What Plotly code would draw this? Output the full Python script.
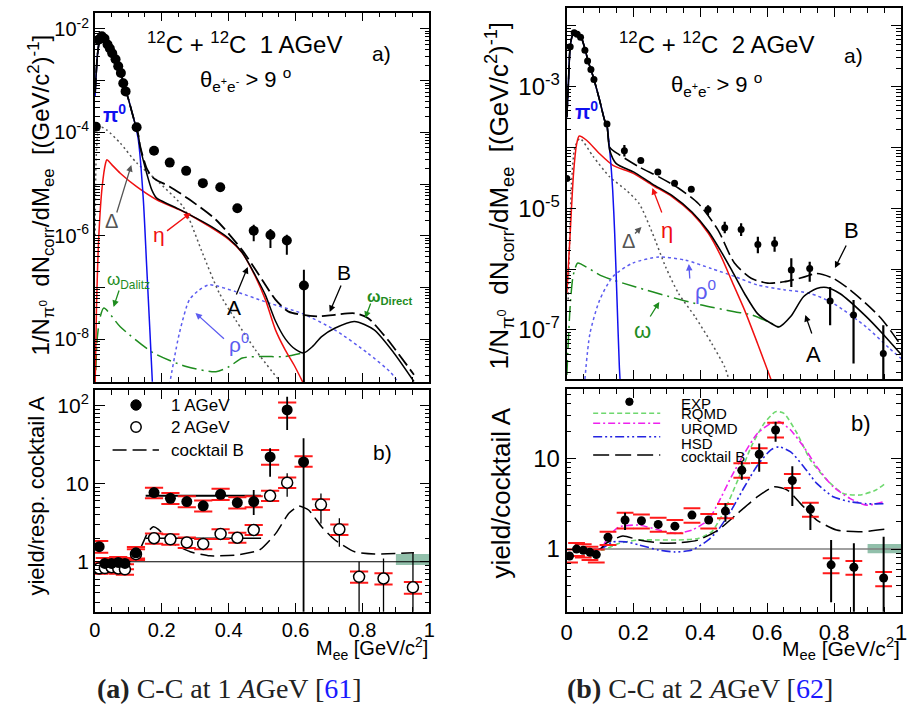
import plotly.graph_objects as go

# ===================== DATA =====================
# --- panel (a) top: C+C 1 AGeV, dN/dMee ---
m_1gev = [0.003, 0.011, 0.021, 0.029, 0.038, 0.045, 0.052, 0.062, 0.070, 0.078, 0.085, 0.092,
          0.125, 0.177, 0.224, 0.273, 0.323, 0.375, 0.426, 0.475, 0.525, 0.574, 0.625]
y_1gev = [1.29e-4, 6.2e-3, 7.2e-3, 6.5e-3, 5.0e-3, 4.2e-3, 3.4e-3, 2.6e-3, 1.9e-3, 1.41e-3, 8.9e-4, 6.2e-4,
          1.26e-4, 4.4e-5, 2.6e-5, 1.8e-5, 1.04e-5, 8.7e-6, 3.4e-6, 1.25e-6, 1.03e-6, 8.1e-7, 1.09e-7]
y_1gev_hi = [None] * 18 + [4.0e-6, 1.63e-6, 1.35e-6, 1.04e-6, 2.2e-7]
y_1gev_lo = [None] * 18 + [2.9e-6, 7.8e-7, 5.8e-7, 4.3e-7, 1e-12]

a1_pi0_m = [0.001, 0.008, 0.015, 0.021, 0.03, 0.04, 0.05, 0.06, 0.07, 0.08, 0.09, 0.1, 0.11, 0.12, 0.13,
            0.145, 0.155, 0.165, 0.172]
a1_pi0_y = [5.0e-4, 3.2e-3, 6.3e-3, 7.4e-3, 6.6e-3, 5.0e-3, 3.6e-3, 2.6e-3, 1.9e-3, 1.26e-3, 7.1e-4, 4.5e-4,
            2.6e-4, 1.5e-4, 7.2e-5, 5.0e-6, 2.6e-7, 1.3e-8, 1.5e-9]
a1_A_m = [0.001, 0.008, 0.015, 0.021, 0.03, 0.04, 0.05, 0.06, 0.07, 0.08, 0.09, 0.1, 0.11, 0.12, 0.13,
          0.135, 0.155, 0.17, 0.184, 0.2, 0.25, 0.3, 0.35, 0.4, 0.44, 0.48, 0.51, 0.54, 0.57, 0.6, 0.625,
          0.65, 0.678, 0.717, 0.776, 0.835, 0.894, 0.954]
a1_A_y = [6.0e-4, 3.2e-3, 6.3e-3, 7.4e-3, 6.6e-3, 5.0e-3, 3.6e-3, 2.6e-3, 1.9e-3, 1.26e-3, 7.1e-4, 4.5e-4,
          2.6e-4, 1.5e-4, 8.9e-5, 5.4e-5, 1.62e-5, 7.8e-6, 5.4e-6, 4.7e-6, 3.3e-6, 2.24e-6, 1.48e-6, 8.9e-7,
          4.8e-7, 1.7e-7, 7.1e-8, 2.24e-8, 1.0e-8, 6.3e-9, 5.4e-9, 7.1e-9, 1.12e-8, 1.62e-8, 2.2e-8, 1.51e-8,
          5.4e-9, 1.51e-9]
a1_B_m = [0.001, 0.008, 0.015, 0.021, 0.03, 0.04, 0.05, 0.06, 0.07, 0.08, 0.09, 0.1, 0.11, 0.12, 0.13,
          0.135, 0.155, 0.17, 0.184, 0.224, 0.283, 0.362, 0.441, 0.5, 0.54, 0.579, 0.621, 0.668, 0.717, 0.776,
          0.816, 0.875, 0.954]
a1_B_y = [6.0e-4, 3.2e-3, 6.3e-3, 7.4e-3, 6.6e-3, 5.0e-3, 3.6e-3, 2.6e-3, 1.9e-3, 1.26e-3, 7.1e-4, 4.5e-4,
          2.6e-4, 1.5e-4, 8.9e-5, 5.6e-5, 2.0e-5, 1.41e-5, 1.2e-5, 8.9e-6, 5.0e-6, 2.04e-6, 5.2e-7, 1.41e-7,
          5.8e-8, 3.4e-8, 2.95e-8, 2.75e-8, 2.95e-8, 3.16e-8, 2.57e-8, 9.8e-9, 2.04e-9]
a1_eta_m = [0.001, 0.005, 0.012, 0.022, 0.032, 0.036, 0.05, 0.076, 0.125, 0.184, 0.273, 0.342, 0.402, 0.441,
            0.48, 0.51, 0.54, 0.569, 0.598, 0.623]
a1_eta_y = [1.26e-9, 4.0e-8, 1.0e-6, 8.9e-6, 2.5e-5, 2.95e-5, 2.4e-5, 1.62e-5, 8.9e-6, 5.0e-6, 2.75e-6,
            1.51e-6, 8.3e-7, 4.6e-7, 1.62e-7, 5.8e-8, 1.51e-8, 6.2e-9, 2.95e-9, 1.41e-9]
a1_delta_m = [0.001, 0.004, 0.01, 0.02, 0.035, 0.076, 0.125, 0.184, 0.263, 0.283, 0.322, 0.372, 0.421, 0.48, 0.55]
a1_delta_y = [1.0e-6, 3.16e-5, 1.0e-4, 1.26e-4, 1.12e-4, 6.2e-5, 2.57e-5, 1.2e-5, 3.7e-6, 2.04e-6, 4.6e-7,
              7.8e-8, 2.34e-8, 6.2e-9, 1.62e-9]
a1_omega_m = [0.003, 0.007, 0.015, 0.027, 0.076, 0.175, 0.273, 0.362, 0.402, 0.441, 0.5, 0.569, 0.623]
a1_omega_y = [2.5e-9, 9.8e-9, 2.5e-8, 4.0e-8, 1.74e-8, 5.4e-9, 2.95e-9, 2.34e-9, 2.95e-9, 4.3e-9, 4.6e-9,
              4.6e-9, 5.4e-9]
a1_rho_m = [0.22, 0.253, 0.283, 0.312, 0.342, 0.421, 0.52, 0.618, 0.717, 0.815, 0.885, 0.905]
a1_rho_y = [1.0e-9, 1.32e-8, 5.8e-8, 8.9e-8, 1.12e-7, 8.3e-8, 5.0e-8, 3.16e-8, 1.51e-8, 5.4e-9, 2.24e-9, 1.51e-9]

# --- panel (b) top: C+C 2 AGeV, dN/dMee ---
m_2gev = [0.001, 0.011, 0.023, 0.032, 0.042, 0.055, 0.063, 0.073, 0.082, 0.121, 0.173, 0.222, 0.273, 0.323,
          0.373, 0.423, 0.473, 0.522, 0.572, 0.622, 0.672, 0.727, 0.788, 0.858, 0.947]
y_2gev = [3.1e-5, 4.55e-3, 7.7e-3, 7.3e-3, 6.5e-3, 4.0e-3, 2.65e-3, 1.93e-3, 1.32e-3, 2.44e-4, 8.9e-5, 6.1e-5,
          3.95e-5, 2.58e-5, 2.07e-5, 9.6e-6, 4.8e-6, 4.5e-6, 2.55e-6, 2.65e-6, 9.7e-7, 1.03e-6, 2.99e-7,
          1.76e-7, 4.1e-8]
y_2gev_hi = [None] * 10 + [1.1e-4, None, None, None, None, 1.13e-5, 6.0e-6, 5.7e-6, 3.4e-6, 3.4e-6, 1.51e-6,
                           1.32e-6, 5.1e-7, 3.1e-7, 1.2e-7]
y_2gev_lo = [None] * 10 + [7.1e-5, None, None, None, None, 7.8e-6, 3.9e-6, 3.5e-6, 1.82e-6, 1.94e-6, 5.1e-7,
                           6.2e-7, 1.2e-7, 2.8e-8, 1e-12]

b1_pi0_m = [0.001, 0.006, 0.011, 0.018, 0.026, 0.035, 0.045, 0.055, 0.065, 0.08, 0.099, 0.114, 0.121, 0.13,
            0.138, 0.144, 0.151, 0.158, 0.162]
b1_pi0_y = [3.16e-4, 1.26e-3, 4.6e-3, 7.1e-3, 8.1e-3, 7.4e-3, 6.3e-3, 4.2e-3, 2.6e-3, 1.45e-3, 6.0e-4, 2.8e-4,
            2.24e-4, 7.9e-5, 2.0e-5, 3.9e-6, 3.1e-7, 2.45e-8, 1.0e-8]
b1_A_m = [0.001, 0.006, 0.011, 0.018, 0.026, 0.035, 0.045, 0.055, 0.065, 0.08, 0.099, 0.114, 0.121, 0.129,
          0.148, 0.2, 0.257, 0.316, 0.375, 0.424, 0.463, 0.493, 0.532, 0.571, 0.611, 0.635, 0.67, 0.709, 0.748,
          0.778, 0.817, 0.896, 0.945, 1.0]
b1_A_y = [3.16e-4, 1.26e-3, 4.6e-3, 7.1e-3, 8.1e-3, 7.4e-3, 6.3e-3, 4.2e-3, 2.6e-3, 1.45e-3, 6.0e-4, 2.8e-4,
          2.3e-4, 9.1e-5, 5.5e-5, 3.98e-5, 2.51e-5, 1.62e-5, 8.7e-6, 4.2e-6, 1.91e-6, 9.8e-7, 3.98e-7, 1.86e-7,
          1.29e-7, 1.12e-7, 1.66e-7, 3.55e-7, 4.8e-7, 5.0e-7, 3.98e-7, 1.66e-7, 8.7e-8, 3.98e-8]
b1_B_m = [0.001, 0.006, 0.011, 0.018, 0.026, 0.035, 0.045, 0.055, 0.065, 0.08, 0.099, 0.114, 0.121, 0.13,
          0.158, 0.217, 0.276, 0.335, 0.394, 0.453, 0.502, 0.552, 0.601, 0.65, 0.709, 0.748, 0.797, 0.847,
          0.906, 0.945, 1.0]
b1_B_y = [3.16e-4, 1.26e-3, 4.6e-3, 7.1e-3, 8.1e-3, 7.4e-3, 6.3e-3, 4.2e-3, 2.6e-3, 1.45e-3, 6.0e-4, 2.8e-4,
          2.3e-4, 1.0e-4, 7.6e-5, 4.8e-5, 3.3e-5, 2.14e-5, 1.2e-5, 4.4e-6, 1.26e-6, 7.1e-7, 5.9e-7, 6.2e-7,
          7.4e-7, 8.5e-7, 7.1e-7, 4.6e-7, 2.4e-7, 1.45e-7, 5.6e-8]
b1_eta_m = [0.001, 0.011, 0.021, 0.03, 0.038, 0.06, 0.099, 0.139, 0.198, 0.257, 0.316, 0.375, 0.424, 0.463,
            0.493, 0.532, 0.571, 0.611]
b1_eta_y = [3.98e-7, 3.9e-6, 3.8e-5, 1.12e-4, 1.55e-4, 1.32e-4, 7.9e-5, 5.1e-5, 3.8e-5, 2.4e-5, 1.55e-5,
            8.3e-6, 3.9e-6, 1.58e-6, 6.6e-7, 2.14e-7, 6.0e-8, 1.55e-8]
b1_delta_m = [0.005, 0.015, 0.025, 0.04, 0.08, 0.129, 0.178, 0.217, 0.257, 0.296, 0.335, 0.384, 0.434, 0.473, 0.49]
b1_delta_y = [3.16e-7, 2.5e-5, 1.0e-4, 1.41e-4, 7.1e-5, 3.3e-5, 2.0e-5, 1.2e-5, 3.9e-6, 1.1e-6, 3.98e-7,
              1.66e-7, 6.0e-8, 2.45e-8, 1.26e-8]
b1_omega_m = [0.001, 0.011, 0.02, 0.033, 0.045, 0.109, 0.207, 0.306, 0.404, 0.502, 0.552, 0.601, 0.635]
b1_omega_y = [1.82e-8, 2.5e-7, 7.9e-7, 1.26e-6, 1.2e-6, 7.6e-7, 5.1e-7, 3.55e-7, 2.57e-7, 2.0e-7, 1.78e-7,
              1.38e-7, 1.12e-7]
b1_rho_m = [0.055, 0.07, 0.099, 0.139, 0.198, 0.276, 0.355, 0.434, 0.502, 0.571, 0.65, 0.729, 0.797, 0.896,
            0.965, 1.0]
b1_rho_y = [1.55e-8, 8.7e-8, 3.1e-7, 7.6e-7, 1.26e-6, 1.58e-6, 1.41e-6, 1.02e-6, 7.6e-7, 5.5e-7, 4.6e-7,
            3.98e-7, 2.75e-7, 1.12e-7, 5.0e-8, 3.4e-8]

# --- panel (a) bottom: yield / cocktail A ---
r1_m = [0.013, 0.03, 0.05, 0.07, 0.09, 0.123, 0.177, 0.226, 0.275, 0.324, 0.376, 0.426, 0.475, 0.524, 0.575, 0.624]
r1_y = [1.56, 0.95, 0.95, 0.98, 0.95, 1.30, 7.7, 6.5, 5.9, 5.2, 7.3, 5.7, 5.9, 22.0, 88.0, 19.0]
r1_stat_hi = [1.7, 1.0, 1.0, 1.03, 1.0, 1.45, 8.5, 7.0, 6.3, 5.7, 8.0, 6.2, 8.3, 28.4, 130.0, 38.2]
r1_stat_lo = [1.42, 0.9, 0.9, 0.93, 0.9, 1.17, 6.9, 6.0, 5.5, 4.7, 6.6, 5.2, 3.96, 12.3, 48.8, 0.001]
r1_sys_hi = [1.85, 1.12, 1.12, 1.15, 1.12, 1.55, 8.9, 7.6, 6.9, 6.1, 8.6, 6.7, 6.9, 27.0, 110.0, 22.5]
r1_sys_lo = [1.3, 0.8, 0.8, 0.83, 0.8, 1.1, 6.5, 5.5, 5.0, 4.4, 6.2, 4.8, 5.0, 17.5, 70.0, 16.5]

r2_m = [0.013, 0.03, 0.05, 0.07, 0.09, 0.123, 0.177, 0.226, 0.275, 0.324, 0.376, 0.426, 0.475, 0.524, 0.575,
        0.676, 0.731, 0.790, 0.863, 0.951]
r2_y = [0.82, 0.83, 0.85, 0.82, 0.80, 1.25, 2.0, 1.94, 1.77, 1.69, 2.27, 2.03, 2.55, 7.0, 10.3, 5.4, 2.6,
        0.64, 0.61, 0.47]
r2_stat_hi = [0.86, 0.87, 0.89, 0.86, 0.84, 1.35, 2.3, 2.1, 1.9, 1.8, 2.45, 2.2, 2.75, 7.6, 13.6, 7.5, 3.6,
              1.0, 1.1, 1.3]
r2_stat_lo = [0.78, 0.79, 0.81, 0.78, 0.76, 1.16, 1.75, 1.8, 1.65, 1.58, 2.1, 1.88, 2.35, 6.4, 6.8, 3.1, 1.56,
              0.001, 0.001, 0.001]
r2_sys_hi = [0.95, 0.96, 0.98, 0.95, 0.93, 1.45, 2.3, 2.25, 2.05, 1.95, 2.6, 2.35, 2.95, 8.1, 12.0, 6.3, 3.0,
             0.75, 0.71, 0.55]
r2_sys_lo = [0.7, 0.71, 0.73, 0.7, 0.68, 1.05, 1.7, 1.65, 1.5, 1.45, 1.95, 1.75, 2.2, 6.0, 8.8, 4.6, 2.2,
             0.54, 0.51, 0.39]

fit_m = [0.152, 0.497]
fit_1gev = 7.0
fit_2gev = 2.0

ra_cockB_m = [0.1, 0.12, 0.14, 0.16, 0.175, 0.19, 0.226, 0.285, 0.344, 0.423, 0.492, 0.541, 0.58, 0.61, 0.639,
              0.678, 0.718, 0.777, 0.836, 0.914, 0.954]
ra_cockB_y = [1.0, 1.12, 1.6, 2.45, 2.8, 2.6, 1.8, 1.34, 1.19, 1.22, 1.41, 2.31, 4.18, 5.18, 4.6, 2.81, 1.9,
              1.34, 1.26, 1.28, 1.3]
band_m = [0.9, 1.0]
ra_band = [0.91, 1.26]

# --- panel (b) bottom: yield / cocktail A, models ---
rb_m = [0.009, 0.030, 0.050, 0.070, 0.089, 0.124, 0.175, 0.224, 0.274, 0.324, 0.375, 0.425, 0.475, 0.524,
        0.576, 0.625, 0.675, 0.729, 0.791, 0.859, 0.948]
rb_y = [0.84, 1.0, 0.97, 0.92, 0.87, 1.35, 2.09, 2.05, 1.87, 1.79, 2.37, 2.09, 2.62, 7.4, 11.1, 20.5, 5.7,
        2.74, 0.67, 0.63, 0.48]
rb_stat_hi = [0.86, 1.03, 1.0, 0.95, 0.9, 1.45, 2.51, 2.15, 1.97, 1.88, 2.5, 2.2, 3.19, 9.2, 14.6, 25.3, 8.2,
              3.19, 1.26, 1.16, 1.37]
rb_stat_lo = [0.82, 0.97, 0.94, 0.89, 0.84, 1.25, 1.62, 1.95, 1.77, 1.7, 2.24, 1.98, 2.0, 5.8, 7.1, 15.2, 2.98,
              1.62, 0.26, 0.1, 0.1]
rb_sys_hi = [0.99, 1.17, 1.13, 1.06, 0.99, 1.55, 2.51, 2.41, 2.21, 2.09, 2.81, 2.43, 3.13, 8.8, 12.9, 24.7,
             6.7, 3.24, 0.79, 0.74, 0.56]
rb_sys_lo = [0.71, 0.84, 0.81, 0.76, 0.71, 1.11, 1.69, 1.69, 1.55, 1.49, 1.95, 1.69, 2.18, 6.1, 8.9, 17.0,
             4.7, 2.27, 0.54, 0.52, 0.39]

rqmd_m = [0.03, 0.109, 0.158, 0.217, 0.276, 0.335, 0.394, 0.434, 0.473, 0.512, 0.552, 0.591, 0.625, 0.65,
          0.689, 0.729, 0.778, 0.827, 0.876, 0.925, 0.95]
rqmd_y = [1.0, 0.98, 1.16, 1.26, 1.26, 1.26, 1.31, 1.55, 2.69, 5.75, 13.4, 24.3, 32.7, 31.3, 18.9, 9.6, 5.8,
          4.1, 3.94, 4.47, 5.2]
urqmd_m = [0.03, 0.1, 0.129, 0.158, 0.217, 0.276, 0.325, 0.375, 0.424, 0.453, 0.493, 0.532, 0.571, 0.611,
           0.635, 0.67, 0.709, 0.748, 0.797, 0.847, 0.896, 0.95]
urqmd_y = [1.0, 1.0, 1.43, 1.76, 1.84, 1.62, 1.49, 1.62, 2.09, 3.19, 6.3, 11.4, 18.9, 24.3, 25.4, 20.5, 13.4,
           8.1, 4.86, 3.62, 3.05, 3.33]
hsd_m = [0.03, 0.1, 0.139, 0.178, 0.217, 0.276, 0.325, 0.375, 0.424, 0.453, 0.493, 0.532, 0.571, 0.611, 0.635,
         0.67, 0.709, 0.748, 0.797, 0.847, 0.896, 0.95]
hsd_y = [1.0, 1.0, 1.2, 1.2, 1.11, 0.975, 0.93, 0.975, 1.26, 1.62, 2.69, 4.86, 8.4, 12.4, 13.4, 11.8, 8.1,
         5.3, 3.78, 3.33, 3.16, 3.16]
rb_cockB_m = [0.03, 0.1, 0.119, 0.168, 0.217, 0.276, 0.335, 0.394, 0.453, 0.512, 0.571, 0.62, 0.66, 0.699,
              0.748, 0.807, 0.876, 0.95]
rb_cockB_y = [1.0, 1.0, 1.16, 1.39, 1.26, 1.17, 1.17, 1.26, 1.62, 2.48, 3.78, 4.86, 4.47, 3.19, 2.09, 1.62,
              1.55, 1.65]
rb_band = [0.897, 1.135]

# tick labels
x_tick_vals = [0, 0.2, 0.4, 0.6, 0.8, 1]
x_tick_text = ["0", "0.2", "0.4", "0.6", "0.8", "1"]

# ===================== FIGURE =====================
W, H = 910, 705
FONT = "Liberation Sans, Arial, Helvetica, sans-serif"
SERIF = "Liberation Serif, Times New Roman, serif"

C_PI0 = "#1010f0"
C_ETA = "#f01010"
C_DEL = "#555555"
C_OME = "#1e8c1e"
C_RHO = "#5c5cf0"


def px(x):
    return x / W


def py(y):
    return 1 - y / H


fig = go.Figure()


def curve(x, y, xa, ya, color, dash="solid", width=1.5, smooth=0.7):
    fig.add_trace(go.Scatter(
        x=x, y=y, xaxis=xa, yaxis=ya, mode="lines",
        line=dict(color=color, dash=dash, width=width, shape="spline", smoothing=smooth),
        showlegend=False, hoverinfo="skip"))


def errs(y, hi, lo):
    plus = [(h - v) if h is not None else 0 for h, v in zip(hi, y)]
    minus = [(v - l) if l is not None else 0 for l, v in zip(lo, y)]
    return plus, minus


def points(x, y, hi, lo, xa, ya, size, open_=False, ew=1.5):
    plus, minus = errs(y, hi, lo)
    fig.add_trace(go.Scatter(
        x=x, y=y, xaxis=xa, yaxis=ya, mode="markers",
        marker=dict(size=size, color="white" if open_ else "black", symbol="circle",
                    line=dict(color="black", width=1.5 if open_ else 0)),
        error_y=dict(type="data", symmetric=False, array=plus, arrayminus=minus,
                     color="black", thickness=ew, width=0),
        showlegend=False, hoverinfo="skip"))


def caps(x, hi, lo, xa, ya, size):
    fig.add_trace(go.Scatter(
        x=list(x) + list(x), y=list(hi) + list(lo), xaxis=xa, yaxis=ya, mode="markers",
        marker=dict(symbol="line-ew", size=size, line=dict(color="#ff1a1a", width=2)),
        showlegend=False, hoverinfo="skip"))


def hline(xa, ya, level, color, width):
    fig.add_trace(go.Scatter(x=[0, 1], y=[level, level], xaxis=xa, yaxis=ya, mode="lines",
                             line=dict(color=color, width=width), showlegend=False, hoverinfo="skip"))


def band(xa, ya, lims):
    fig.add_trace(go.Scatter(
        x=[band_m[0], band_m[1], band_m[1], band_m[0], band_m[0]],
        y=[lims[0], lims[0], lims[1], lims[1], lims[0]], xaxis=xa, yaxis=ya,
        mode="lines", fill="toself", fillcolor="#92c0ab", line=dict(width=0),
        showlegend=False, hoverinfo="skip"))


# ---- top-left ----
curve(a1_omega_m, a1_omega_y, "x", "y", C_OME, "15px,5px,2px,5px")
curve(a1_rho_m, a1_rho_y, "x", "y", C_RHO, "3px,3px")
curve(a1_delta_m, a1_delta_y, "x", "y", C_DEL, "2px,3px")
curve(a1_eta_m, a1_eta_y, "x", "y", C_ETA)
curve(a1_pi0_m, a1_pi0_y, "x", "y", C_PI0)
curve(a1_B_m, a1_B_y, "x", "y", "black", "14px,5px", 1.8)
curve(a1_A_m, a1_A_y, "x", "y", "black", "solid", 1.5)
points(m_1gev, y_1gev, y_1gev_hi, y_1gev_lo, "x", "y", 10, ew=2)

# ---- top-right ----
curve(b1_omega_m, b1_omega_y, "x3", "y3", C_OME, "15px,5px,2px,5px")
curve(b1_rho_m, b1_rho_y, "x3", "y3", C_RHO, "3px,3px")
curve(b1_delta_m, b1_delta_y, "x3", "y3", C_DEL, "2px,3px")
curve(b1_eta_m, b1_eta_y, "x3", "y3", C_ETA)
curve(b1_pi0_m, b1_pi0_y, "x3", "y3", C_PI0)
curve(b1_B_m, b1_B_y, "x3", "y3", "black", "14px,5px", 1.6)
curve(b1_A_m, b1_A_y, "x3", "y3", "black", "solid", 1.6)
points(m_2gev, y_2gev, y_2gev_hi, y_2gev_lo, "x3", "y3", 7, ew=2.2)

# ---- bottom-left ----
band("x2", "y2", ra_band)
hline("x2", "y2", 1, "black", 1.2)
curve(ra_cockB_m, ra_cockB_y, "x2", "y2", "black", "14px,6px", 1.5, smooth=0.5)
fig.add_trace(go.Scatter(x=fit_m, y=[fit_1gev, fit_1gev], xaxis="x2", yaxis="y2", mode="lines",
                         line=dict(color="black", width=2), showlegend=False, hoverinfo="skip"))
fig.add_trace(go.Scatter(x=fit_m, y=[fit_2gev, fit_2gev], xaxis="x2", yaxis="y2", mode="lines",
                         line=dict(color="black", width=1.5), showlegend=False, hoverinfo="skip"))
caps(r2_m, r2_sys_hi, r2_sys_lo, "x2", "y2", 13)
caps(r1_m, r1_sys_hi, r1_sys_lo, "x2", "y2", 13)
points(r2_m, r2_y, r2_stat_hi, r2_stat_lo, "x2", "y2", 11, open_=True, ew=1.3)
points(r1_m, r1_y, r1_stat_hi, r1_stat_lo, "x2", "y2", 11, ew=1.8)

# ---- bottom-right ----
band("x4", "y4", rb_band)
hline("x4", "y4", 1, "#808080", 1.5)
curve(rqmd_m, rqmd_y, "x4", "y4", "#6fd86f", "5px,3px", 1.6, smooth=0.6)
curve(urqmd_m, urqmd_y, "x4", "y4", "#ee22ee", "7px,3px,2px,3px", 1.6, smooth=0.6)
curve(hsd_m, hsd_y, "x4", "y4", "#2424e0", "9px,3px,2px,3px,2px,3px", 1.6, smooth=0.6)
curve(rb_cockB_m, rb_cockB_y, "x4", "y4", "black", "16px,6px", 1.5, smooth=0.6)
caps(rb_m, rb_sys_hi, rb_sys_lo, "x4", "y4", 12)
points(rb_m, rb_y, rb_stat_hi, rb_stat_lo, "x4", "y4", 9, ew=2)

# ===================== AXES =====================
def minor_log(lo_exp, hi_exp):
    return [k * 10.0 ** e for e in range(lo_exp, hi_exp + 1) for k in range(2, 10)]


def xaxis(dom, anchor, labels, fsize):
    return dict(domain=dom, anchor=anchor, range=[0, 1], showline=True, linecolor="black", linewidth=1.5,
                mirror="ticks", ticks="inside", ticklen=9, tickwidth=1.2, tickcolor="black",
                tickvals=x_tick_vals, ticktext=x_tick_text, showticklabels=labels,
                tickfont=dict(family=FONT, size=fsize, color="black"),
                minor=dict(tickvals=[i * 0.05 for i in range(21)], ticks="inside", ticklen=5,
                           tickcolor="black", tickwidth=1),
                showgrid=False, zeroline=False)


def yaxis(dom, anchor, rng, tv, tt, minors, fsize):
    return dict(domain=dom, anchor=anchor, type="log", range=rng, showline=True, linecolor="black",
                linewidth=1.5, mirror="ticks", ticks="inside", ticklen=10, tickwidth=1.2, tickcolor="black",
                tickvals=tv, ticktext=tt, tickfont=dict(family=FONT, size=fsize, color="black"),
                minor=dict(tickvals=minors, ticks="inside", ticklen=5, tickcolor="black", tickwidth=1),
                showgrid=False, zeroline=False)


XL = [px(90), px(429)]
XR = [px(568), px(907)]

fig.update_layout(
    width=W, height=H, margin=dict(l=0, r=0, t=0, b=0),
    paper_bgcolor="white", plot_bgcolor="white", showlegend=False,
    xaxis=xaxis(XL, "y", False, 19),
    yaxis=yaxis([py(382), py(12.7)], "x", [-8.83, -1.685],
                [1e-8, 1e-7, 1e-6, 1e-5, 1e-4, 1e-3, 1e-2],
                ["10<sup>-8</sup>", "", "10<sup>-6</sup>", "", "10<sup>-4</sup>", "", "10<sup>-2</sup>"],
                minor_log(-9, -2), 20),
    xaxis2=xaxis(XL, "y2", True, 20),
    yaxis2=yaxis([py(611.7), py(390)], "x2", [-0.64, 2.20], [1, 10, 100], ["1", "10", "10<sup>2</sup>"],
                 minor_log(-1, 2), 21),
    xaxis3=xaxis(XR, "y3", False, 22),
    yaxis3=yaxis([py(379), py(8)], "x3", [-7.806, -1.705],
                 [1e-7, 1e-6, 1e-5, 1e-4, 1e-3, 1e-2],
                 ["10<sup>-7</sup>", "", "10<sup>-5</sup>", "", "10<sup>-3</sup>", ""],
                 minor_log(-8, -2), 24),
    xaxis4=xaxis(XR, "y4", True, 22),
    yaxis4=yaxis([py(611.7), py(389)], "x4", [-0.69, 1.764], [1, 10], ["1", "10"], minor_log(-1, 1), 24),
)

# ===================== TEXT =====================
ann = []


def text(x, y, t, size=20, color="black", xanchor="center", angle=0, family=FONT):
    ann.append(dict(x=px(x), y=py(y), xref="paper", yref="paper", text=t, showarrow=False,
                    xanchor=xanchor, yanchor="middle", textangle=angle,
                    font=dict(family=family, size=size, color=color)))


def arrow(tail, head, color, width=1.3):
    ann.append(dict(x=px(head[0]), y=py(head[1]), xref="paper", yref="paper", text="",
                    showarrow=True, ax=tail[0] - head[0], ay=tail[1] - head[1], axref="pixel", ayref="pixel",
                    arrowhead=2, arrowsize=1.0, arrowwidth=width, arrowcolor=color, standoff=0))


NB = "\u00a0"
ytitle = ("1/N<sub>π<sup>0</sup></sub>" + NB + NB + "dN<sub>corr</sub>/dM<sub>ee</sub>" + NB + NB +
          "[(GeV/c<sup>2</sup>)<sup>-1</sup>]")
theta = "θ<sub>e<sup>+</sup>e<sup>-</sup></sub> > 9 <sup>o</sup>"

# top-left
text(35, 195, ytitle, 24, angle=-90)
text(242, 43, "<sup>12</sup>C + <sup>12</sup>C" + NB + NB + "1 AGeV", 24)
text(381, 53, "a)", 21)
text(243, 79, theta, 22)
text(110, 113, "<b>π<sup>0</sup></b>", 20, C_PI0)
text(107, 221, "Δ", 20, C_DEL)
arrow((112, 214), (127, 165), C_DEL)
text(155, 235, "η", 21, C_ETA)
arrow((162, 232), (187, 213), C_ETA)
text(231, 307, "A", 21)
arrow((233, 296), (245, 267), "black")
text(343, 272, "B", 21)
arrow((340, 284), (328, 312), "black")
text(124, 281, "ω<sub>Dalitz</sub>", 17, C_OME)
arrow((115, 289), (109, 307), C_OME)
text(389, 297, "<b>ω<sub>Direct</sub></b>", 16, C_OME)
arrow((370, 302), (364, 318), C_OME)
text(236, 343, "ρ<sup>0</sup>", 21, C_RHO)
arrow((222, 340), (192, 313), C_RHO)

# top-right
text(500, 195, ytitle, 26, angle=-90)
text(720, 43, "<sup>12</sup>C + <sup>12</sup>C" + NB + NB + "2 AGeV", 24)
text(859, 55, "a)", 21)
text(720, 85, theta, 22)
text(588, 110, "<b>π<sup>0</sup></b>", 20, C_PI0)
text(631, 241, "Δ", 20, C_DEL)
arrow((636, 235), (644, 227), C_DEL)
text(670, 230, "η", 22, C_ETA)
arrow((665, 214), (655, 188), C_ETA)
text(709, 290, "ρ<sup>0</sup>", 22, C_RHO)
arrow((693, 280), (692, 264), C_RHO)
text(645, 330, "ω", 22, C_OME)
arrow((652, 318), (662, 302), C_OME)
text(818, 355, "A", 22)
arrow((817, 335), (810, 315), "black")
text(857, 230, "B", 22)
arrow((852, 244), (840, 268), "black")

# bottom-left
text(30, 496, "yield/resp. cocktail A", 22, angle=-90)
text(165, 405, "1 AGeV", 17, xanchor="left")
text(165, 427, "2 AGeV", 17, xanchor="left")
text(165, 450, "cocktail B", 17, xanchor="left")
text(382, 452, "b)", 21)
text(430, 648, "M<sub>ee</sub> [GeV/c<sup>2</sup>]", 20, xanchor="right")

# bottom-right
text(502, 493, "yield/cocktail A", 26, angle=-90)
text(682, 403, "EXP", 15, xanchor="left")
text(682, 414, "RQMD", 15, xanchor="left")
text(682, 428, "URQMD", 15, xanchor="left")
text(682, 443, "HSD", 15, xanchor="left")
text(682, 456, "cocktail B", 15, xanchor="left")
text(866, 423, "b)", 22)
text(908, 648, "M<sub>ee</sub> [GeV/c<sup>2</sup>]", 21, xanchor="right")

# captions
text(226, 688, "<b>(a)</b> C-C at 1 <i>A</i>GeV [<span style='color:#1a1aff'>61</span>]", 28, "#222",
     family=SERIF)
text(703, 688, "<b>(b)</b> C-C at 2 <i>A</i>GeV [<span style='color:#1a1aff'>62</span>]", 28, "#222",
     family=SERIF)

fig.update_layout(annotations=ann)

# legend glyphs (paper shapes)
shapes = [
    dict(type="circle", xref="paper", yref="paper", x0=px(126.5), x1=px(137), y0=py(399.8), y1=py(410.2),
         fillcolor="black", line=dict(color="black", width=1)),
    dict(type="circle", xref="paper", yref="paper", x0=px(126.5), x1=px(137), y0=py(421.7), y1=py(432.2),
         fillcolor="white", line=dict(color="black", width=1.5)),
    dict(type="line", xref="paper", yref="paper", x0=px(108), x1=px(155), y0=py(450), y1=py(450),
         line=dict(color="black", width=1.5, dash="14px,6px")),
    dict(type="circle", xref="paper", yref="paper", x0=px(628), x1=px(635.5), y0=py(398), y1=py(405.5),
         fillcolor="black", line=dict(color="black", width=1)),
    dict(type="line", xref="paper", yref="paper", x0=px(595), x1=px(663), y0=py(413.3), y1=py(413.3),
         line=dict(color="#6fd86f", width=1.6, dash="5px,3px")),
    dict(type="line", xref="paper", yref="paper", x0=px(595), x1=px(663), y0=py(423.3), y1=py(423.3),
         line=dict(color="#ee22ee", width=1.6, dash="7px,3px,2px,3px")),
    dict(type="line", xref="paper", yref="paper", x0=px(595), x1=px(663), y0=py(436.7), y1=py(436.7),
         line=dict(color="#2424e0", width=1.6, dash="9px,3px,2px,3px,2px,3px")),
    dict(type="line", xref="paper", yref="paper", x0=px(595), x1=px(663), y0=py(455), y1=py(455),
         line=dict(color="black", width=1.5, dash="16px,6px")),
]
fig.update_layout(shapes=shapes)

fig.write_html("out.html", config={"displayModeBar": False},
               post_script="document.body.style.margin='0';document.body.style.overflow='hidden';")
